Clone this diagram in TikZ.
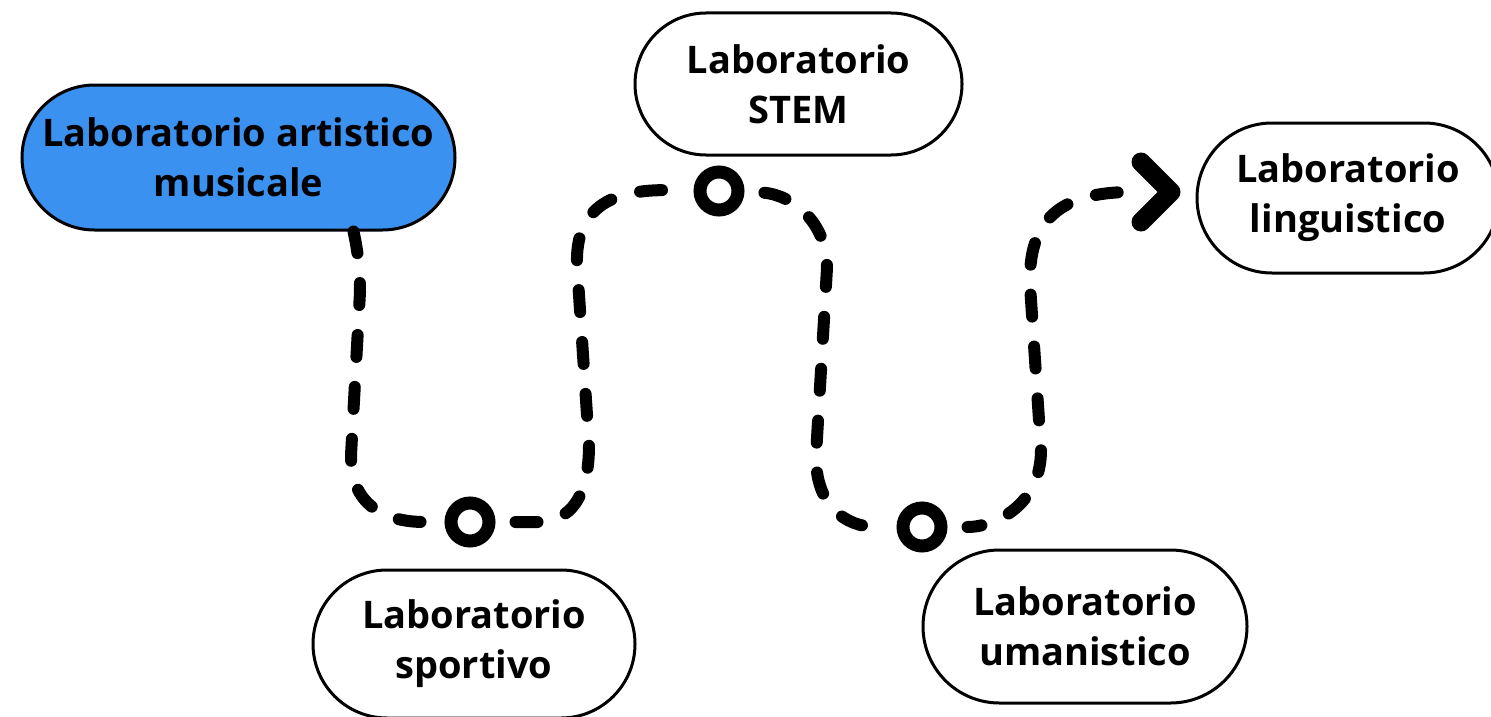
\documentclass[tikz,border=0pt]{standalone}
\usepackage{fontspec}
\setmainfont{Open Sans}
\usetikzlibrary{calc,shapes.misc}
\definecolor{boxblue}{RGB}{58,145,240}
\begin{document}
\begin{tikzpicture}[x=1pt,y=-1pt,
  lab/.style={rounded rectangle, draw=black, fill=white, line width=3pt, align=center,
    font=\fontsize{38}{50}\selectfont\bfseries, inner sep=0pt},
  trail/.style={line width=12pt, line cap=round, dash pattern=on 22pt off 30pt},
  ring/.style={circle, draw, line width=13pt, minimum size=38pt, inner sep=0pt},
  chev/.style={line width=19pt, line cap=round, line join=round}]
\useasboundingbox (0,0) rectangle (1491,717);
\fill[white] (0,0) rectangle (1491,717);

\node[lab, fill=boxblue, minimum width=433pt, minimum height=145pt] (art) at (238.5,157.5) {Laboratorio artistico\\musicale};
\node[lab, minimum width=327pt, minimum height=142pt] (stem) at (798.5,84) {Laboratorio\\STEM};
\node[lab, minimum width=302pt, minimum height=150pt] (ling) at (1348,198) {Laboratorio\\linguistico};
\node[lab, minimum width=322pt, minimum height=148pt] (sport) at (474,644) {Laboratorio\\sportivo};
\node[lab, minimum width=324pt, minimum height=153pt] (uman) at (1085,626.5) {Laboratorio\\umanistico};

\node[ring] (c1) at (470,522) {};
\node[ring] (c2) at (719,191) {};
\node[ring] (c3) at (922,527) {};
\coordinate (e) at (1132,192);

\draw[trail, shorten >=20pt] ([xshift=115pt]art.south) .. controls (358,252) and (360,270) .. (360,292) -- (351,455) .. controls (350,505) and (385,522) .. (c1.west);
\draw[trail, shorten <=20pt, shorten >=18pt] (c1.east) -- (540,522) .. controls (578,520) and (589,485) .. (589,445) -- (577,265) .. controls (575,205) and (615,188) .. (c2.west);
\draw[trail, shorten <=20pt, shorten >=20pt] (c2.east) .. controls (790,195) and (827,220) .. (827,268) -- (816,455) .. controls (815,505) and (845,527) .. (c3.west);
\draw[trail, shorten <=20pt, dash phase=8pt] (c3.east) .. controls (995,527) and (1041,505) .. (1041,450) -- (1030,285) .. controls (1028,220) and (1060,192) .. (e);
\draw[chev] ($(e)+(9,-30)$) -- ($(e)+(39,0)$) -- ($(e)+(9,30)$);
\end{tikzpicture}
\end{document}
